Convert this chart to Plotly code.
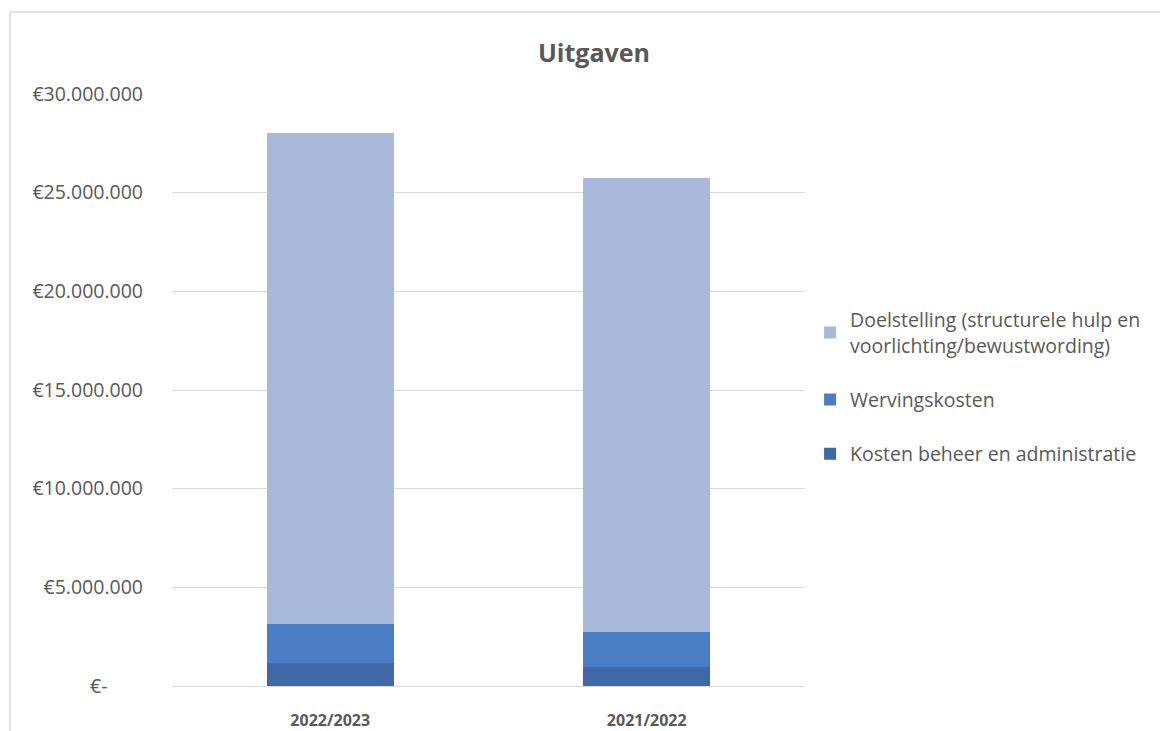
import plotly.graph_objects as go

categories = ["2022/2023", "2021/2022"]
kosten = [1170000, 960000]
werving = [1970000, 1780000]
doel = [24880000, 23000000]

series_names = [
    "Kosten beheer en administratie",
    "Wervingskosten",
    "Doelstelling (structurele hulp en<br>voorlichting/bewustwording)",
]
colors = ["#3E68A6", "#4A7DC3", "#A9B9DA"]
ranks = [3, 2, 1]

tick_vals = [0, 5000000, 10000000, 15000000, 20000000, 25000000, 30000000]
tick_text = ["€-       ", "€5.000.000", "€10.000.000", "€15.000.000",
             "€20.000.000", "€25.000.000", "€30.000.000"]

fig = go.Figure()
for name, vals, col, grp, rk in zip(series_names, [kosten, werving, doel], colors, ["a", "b", "c"], ranks):
    fig.add_trace(go.Bar(x=categories, y=vals, name=name, marker_color=col,
                         marker_line_width=0, width=0.4, legendgroup=grp, legendrank=rk))

fig.update_layout(
    barmode="stack",
    width=1160, height=731,
    margin=dict(l=172, r=355, t=94, b=45, autoexpand=False),
    paper_bgcolor="white", plot_bgcolor="white",
    font=dict(family="Open Sans", color="#595959", size=17),
    title=dict(text="<b>Uitgaven</b>", x=0.512, xanchor="center", y=0.927, yanchor="middle",
               font=dict(size=25, color="#595959", family="Open Sans")),
    legend=dict(x=1.008, xanchor="left", y=0.505, yanchor="middle",
                traceorder="grouped", tracegroupgap=26,
                font=dict(size=19.5, color="#595959"), itemwidth=30),
    showlegend=True,
)
fig.update_xaxes(showgrid=False, showline=True, linecolor="#D9D9D9", linewidth=1,
                 automargin=False,
                 tickfont=dict(size=16, color="#595959"), ticks="", ticklabelstandoff=20,
                 tickprefix="<b>", ticksuffix="</b>")
fig.update_yaxes(range=[0, 30000000], tickvals=tick_vals, ticktext=tick_text,
                 automargin=False,
                 showgrid=True, gridcolor="#D9D9D9", gridwidth=1,
                 zeroline=False, ticks="", ticklabelstandoff=28,
                 tickfont=dict(size=19.5, color="#595959"))

fig.add_shape(type="rect", xref="paper", yref="paper",
              x0=(10 - 172) / 633, x1=(1175 - 172) / 633,
              y0=(686 - 745) / 592, y1=(686 - 12) / 592,
              line=dict(color="#D9D9D9", width=1.5), fillcolor="rgba(0,0,0,0)", layer="below")

fig.write_html("out.html")
